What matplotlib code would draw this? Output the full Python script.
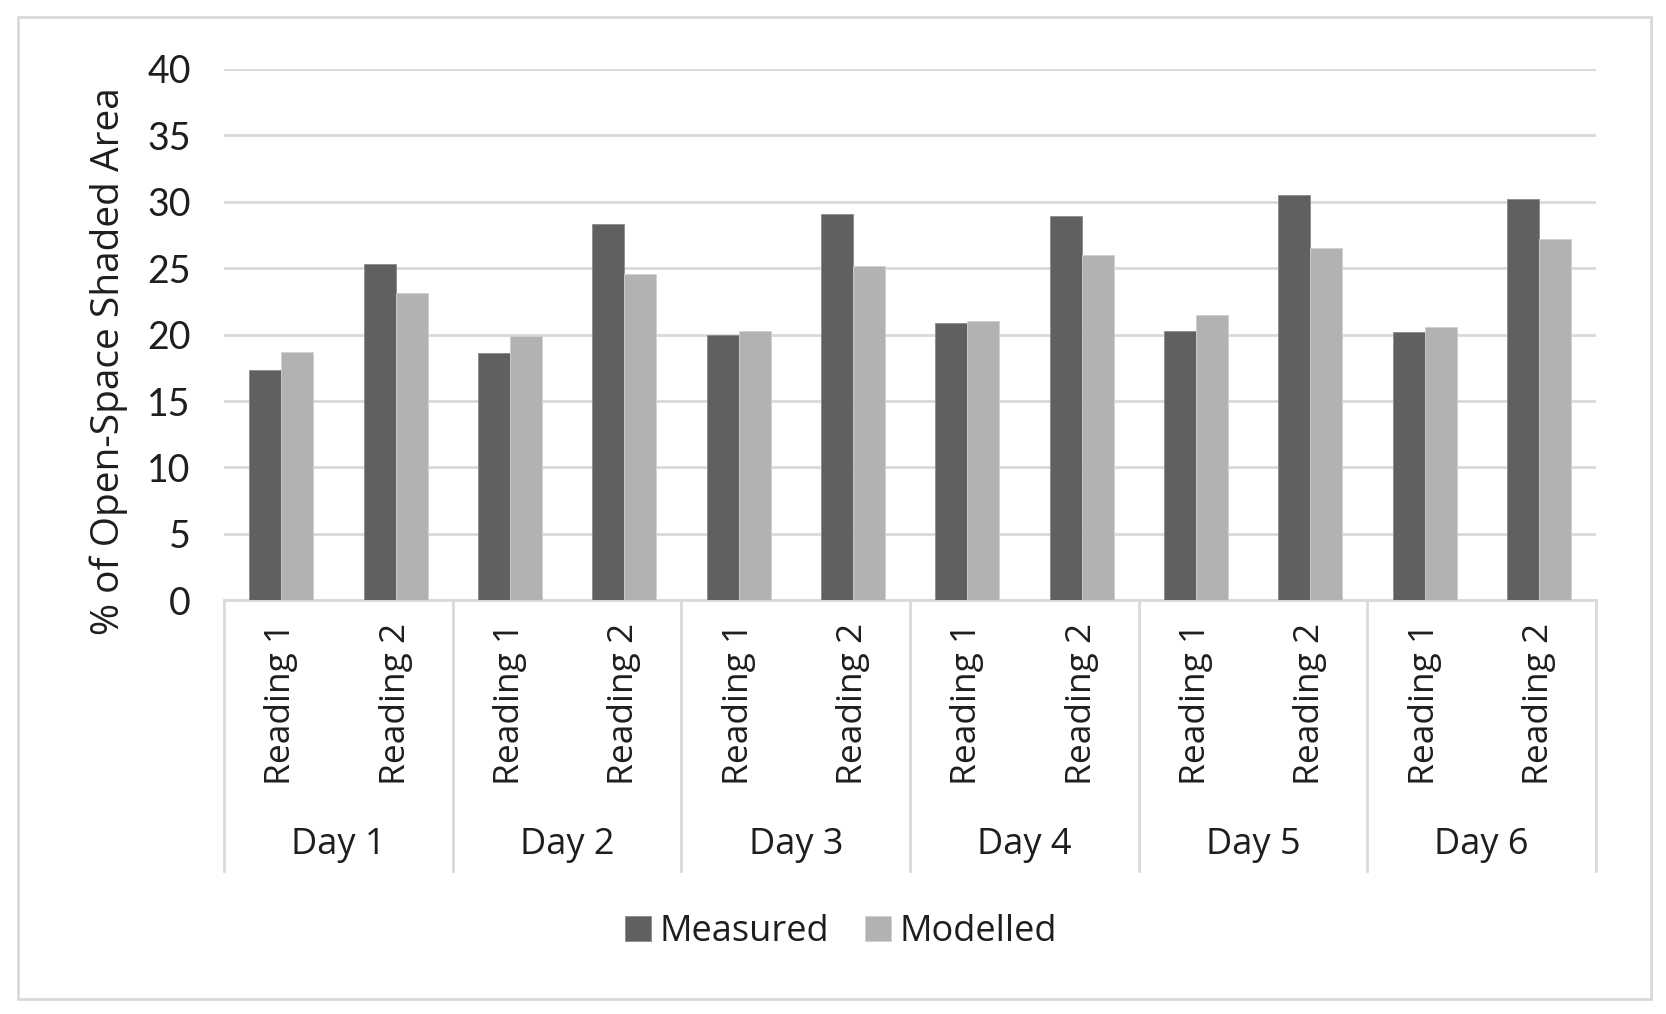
import numpy as np
import matplotlib.pyplot as plt
from matplotlib.patches import Rectangle
from matplotlib.transforms import blended_transform_factory

plt.rcParams['font.family'] = ['Open Sans', 'DejaVu Sans']

# data
days = ["Day 1", "Day 2", "Day 3", "Day 4", "Day 5", "Day 6"]
readings = ["Reading 1", "Reading 2"]
measured = [17.3, 25.3, 18.6, 28.3, 20.0, 29.1, 20.9, 28.9, 20.3, 30.5, 20.2, 30.2]
modelled = [18.7, 23.1, 19.9, 24.6, 20.3, 25.2, 21.0, 26.0, 21.5, 26.5, 20.6, 27.2]

txt = '#1e1e1e'
grid = '#d9d9d9'

fig = plt.figure(figsize=(16.66, 10.14), dpi=100)
ax = fig.add_axes([0.1345, 0.408, 0.8235, 0.524])

x = np.arange(len(measured))
w = 0.28
ax.bar(x - w/2, measured, w, color='#606060', edgecolor='#8a8a8a', linewidth=0.6, label='Measured', zorder=3)
ax.bar(x + w/2, modelled, w, color='#b2b2b2', edgecolor='#d0d0d0', linewidth=0.6, label='Modelled', zorder=3)

ax.set_xlim(-0.5, len(measured) - 0.5)
ax.set_ylim(0, 40)
ax.set_yticks(range(0, 41, 5))
ax.yaxis.grid(True, color=grid, linewidth=2.0, zorder=0)
for s in ['top', 'right', 'left']:
    ax.spines[s].set_visible(False)
ax.spines['bottom'].set_color(grid)
ax.spines['bottom'].set_linewidth(2.0)

ax.tick_params(axis='y', length=0, pad=24, labelsize=27, labelcolor=txt)
for lab in ax.get_yticklabels():
    lab.set_family(['Lato', 'DejaVu Sans'])
ax.set_xticks(x)
ax.set_xticklabels(readings * len(days), rotation=90, fontsize=25.5, color=txt)
ax.tick_params(axis='x', length=0, pad=16)

ax.set_ylabel("% of Open-Space Shaded Area", fontsize=28, color=txt)
ax.yaxis.set_label_coords(-0.07, 0.45)

# multi-level category axis
tr = blended_transform_factory(ax.transData, ax.transAxes)
for i in range(len(days) + 1):
    xs = i * 2 - 0.5
    ax.plot([xs, xs], [0, -0.51], transform=tr, color=grid, linewidth=2.0, clip_on=False)
for i, d in enumerate(days):
    ax.text(i * 2 + 0.5, -0.46, d, transform=tr, ha='center', va='center', fontsize=26, color=txt)

fig.legend(loc='center', bbox_to_anchor=(0.505, 0.081), ncol=2, frameon=False,
           fontsize=26, handlelength=0.7, handleheight=0.7, handletextpad=0.25,
           columnspacing=1.0, labelcolor=txt)

# outer chart border
fig.patches.append(Rectangle((0.011, 0.015), 0.98, 0.968, transform=fig.transFigure,
                             fill=False, edgecolor=grid, linewidth=2.0))

fig.savefig("out.png", dpi=100, facecolor='white')
